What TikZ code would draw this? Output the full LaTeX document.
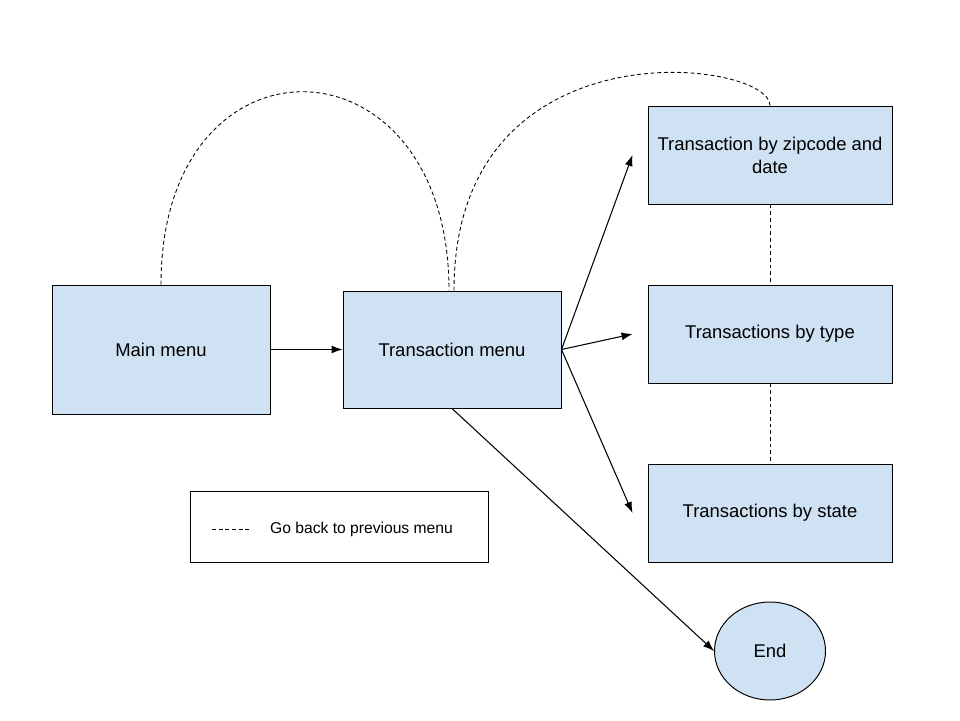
\documentclass[tikz,border=0pt]{standalone}
\usepackage{fontspec}
\setmainfont{Liberation Sans}
\usepackage{tikz}
\usetikzlibrary{arrows.meta,shapes.geometric}
\usepackage{xcolor}
\definecolor{menublue}{HTML}{CFE2F3}

\begin{document}
\begin{tikzpicture}[
box/.style={rectangle,draw,fill=menublue,align=center,line width=0.55pt,font=\fontsize{10.5}{13}\selectfont},
arr/.style={-{Latex[length=2.2mm,width=1.6mm]},line width=0.6pt},
back/.style={dash pattern=on 2.2pt off 1.6pt,line width=0.5pt}
]
\useasboundingbox (0,0) rectangle (19.2,14.4);

\node[box,minimum width=4.36cm,minimum height=2.58cm] (main) at (3.22,7.41) {Main menu};
\node[box,minimum width=4.36cm,minimum height=2.34cm] (tmenu) at (9.04,7.41) {Transaction menu};
\node[box,minimum width=4.88cm,minimum height=1.96cm] (zip) at (15.4,11.3) {Transaction by zipcode and\\date};
\node[box,minimum width=4.88cm,minimum height=1.96cm] (type) at (15.4,7.72) {Transactions by type};
\node[box,minimum width=4.88cm,minimum height=1.96cm] (state) at (15.4,4.14) {Transactions by state};
\node[box,ellipse,inner sep=0pt,minimum width=2.22cm,minimum height=1.96cm] (end) at (15.4,1.38) {End};

% legend
\node[draw,line width=0.55pt,minimum width=5.96cm,minimum height=1.42cm] (legend) at (6.78,3.87) {};
\coordinate (lega) at (4.24,3.82);
\coordinate (legb) at (5.02,3.82);
\node[anchor=west,font=\fontsize{8.9}{10}\selectfont] (legtext) at (5.28,3.82) {Go back to previous menu};
\draw[back] (lega) -- (legb);

\draw[arr] (main) -- (tmenu);
\draw[arr] (tmenu.east) -- ([xshift=-0.3cm]zip.west);
\draw[arr] (tmenu.east) -- ([xshift=-0.3cm]type.west);
\draw[arr] (tmenu.east) -- ([xshift=-0.3cm]state.west);
\draw[arr] (tmenu.south) -- (end.west);

% going back
\draw[back] (main.north) .. controls +(0,5.22) and +(0,5.22) .. ([xshift=-0.06cm]tmenu.north);
\draw[back] ([xshift=0.04cm]tmenu.north) .. controls +(0,5.42) and +(0,0.92) .. (zip.north);
\draw[back] (zip) -- (type);
\draw[back] (type) -- (state);
\end{tikzpicture}
\end{document}
